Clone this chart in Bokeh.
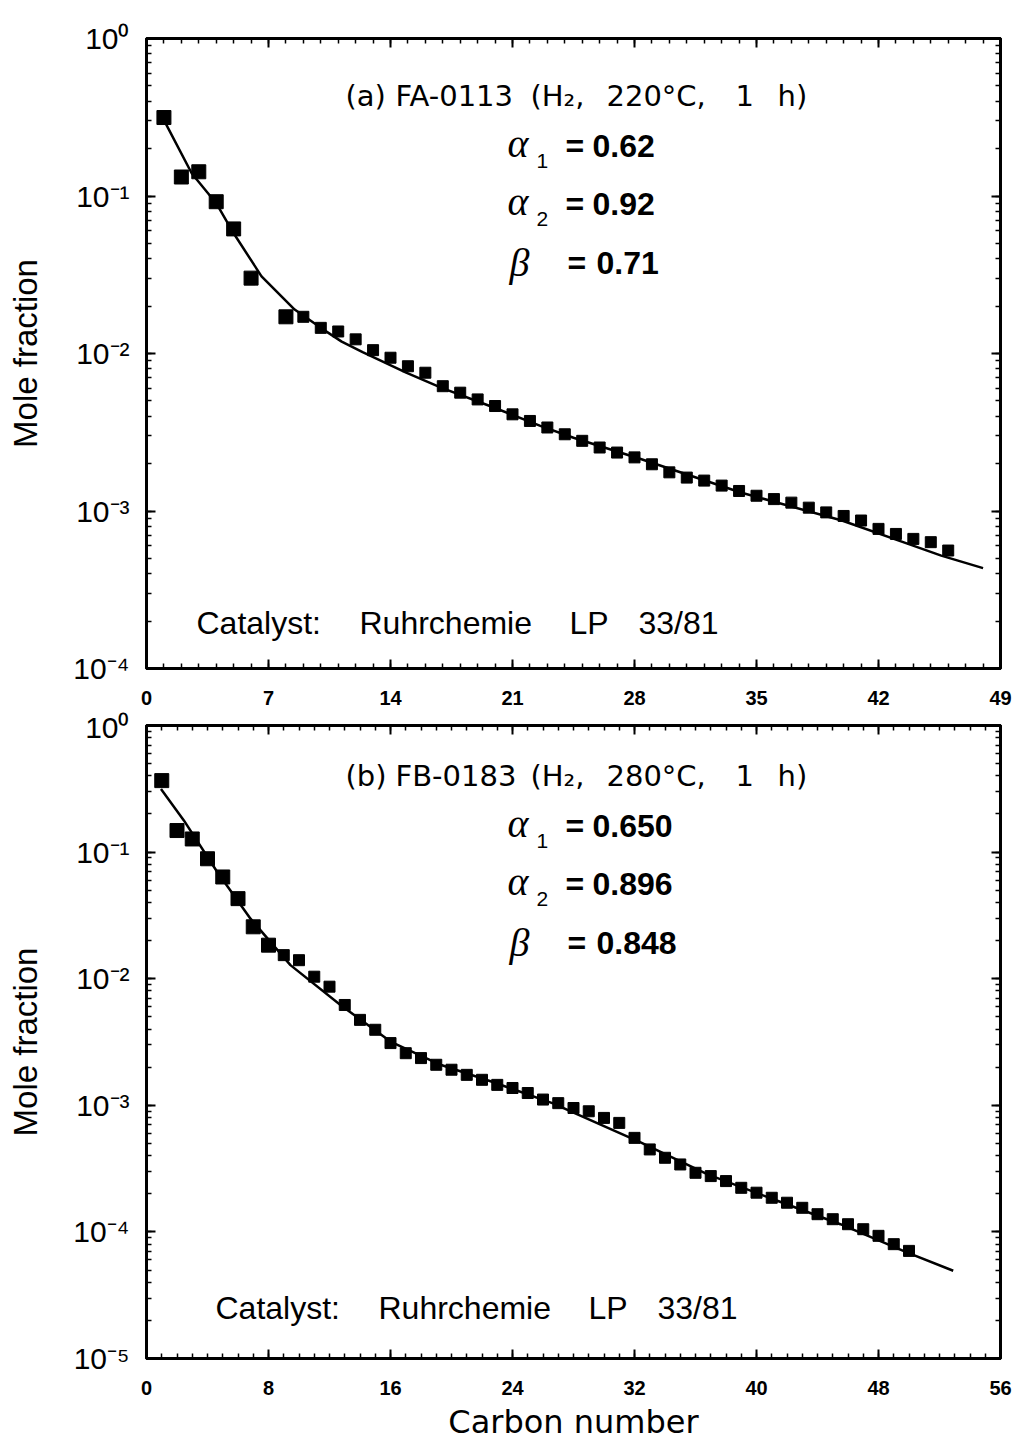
from bokeh.plotting import figure
from bokeh.models import (LogAxis, LinearAxis, LogTicker, SingleIntervalTicker,
                          Label, CustomJSTickFormatter, Range1d)
from bokeh.layouts import column
from bokeh.embed import file_html
from bokeh.resources import INLINE

# ---------------- data: panel (a) FA-0113 ----------------
a_carbon = [1, 2, 3, 4, 5, 6, 8, 9, 10, 11, 12, 13, 14, 15, 16, 17, 18, 19, 20,
            21, 22, 23, 24, 25, 26, 27, 28, 29, 30, 31, 32, 33, 34, 35, 36, 37,
            38, 39, 40, 41, 42, 43, 44, 45, 46]
a_mole = [0.315, 0.132, 0.1425, 0.092, 0.0618, 0.0301, 0.0171, 0.0171, 0.01455,
          0.0138, 0.0123, 0.0105, 0.0094, 0.0083, 0.00755, 0.0062, 0.00564,
          0.00511, 0.00464, 0.00411, 0.00373, 0.00339, 0.00307, 0.00279,
          0.00253, 0.00235, 0.00219, 0.00198, 0.00176, 0.00163, 0.00156,
          0.00145, 0.00134, 0.00125, 0.00119, 0.00113, 0.00105, 0.00098,
          0.00093, 0.00087, 0.00077, 0.000715, 0.000665, 0.000634, 0.000561]
a_fit_x = [1.0, 2.6, 4.0, 5.0, 6.6, 8.5, 10.0, 11.2, 12.4, 14.9, 16.9, 19.7,
           22.6, 24.5, 28.4, 34.1, 39.9, 43.7, 45.6, 48.0]
a_fit_y = [0.303, 0.139, 0.09, 0.058, 0.0309, 0.019, 0.01455, 0.0119, 0.0102,
           0.00755, 0.00607, 0.00464, 0.00347, 0.00292, 0.00213, 0.00131,
           0.00087, 0.000618, 0.000521, 0.000434]

# ---------------- data: panel (b) FB-0183 ----------------
b_carbon = list(range(1, 51))
b_mole = [0.367, 0.148, 0.127, 0.0886, 0.0636, 0.0429, 0.0257, 0.0184, 0.01535,
          0.0140, 0.01037, 0.00865, 0.0062, 0.00473, 0.00395, 0.0031, 0.00258,
          0.00236, 0.00209, 0.00191, 0.00174, 0.00159, 0.00145, 0.00137,
          0.00125, 0.00111, 0.00104, 0.000952, 0.000897, 0.000795, 0.000726,
          0.000553, 0.000448, 0.000385, 0.000341, 0.000293, 0.000276, 0.000252,
          0.000223, 0.000204, 0.000186, 0.00017, 0.000155, 0.000138, 0.000126,
          0.000115, 0.000105, 0.0000931, 0.00008, 0.0000708]
b_fit_x = [0.95, 2.45, 4.64, 6.82, 9.44, 12.72, 16.0, 19.28, 22.56, 26.7, 28.04,
           32.4, 36.8, 41.1, 45.5, 49.9, 52.9]
b_fit_y = [0.315, 0.178, 0.0696, 0.0298, 0.0128, 0.0062, 0.00319, 0.00209,
           0.00155, 0.00103, 0.00087, 0.00051, 0.000285, 0.000181, 0.000115,
           0.0000687, 0.0000493]

x_ticks_a = [0, 7, 14, 21, 28, 35, 42, 49]
x_ticks_b = [0, 8, 16, 24, 32, 40, 48, 56]

title_a = ["(a)", "FA-0113", "(H\u2082,", "220\u00b0C,", "1", "h)"]
title_b = ["(b)", "FB-0183", "(H\u2082,", "280\u00b0C,", "1", "h)"]
params_a = ["0.62", "0.92", "0.71"]
params_b = ["0.650", "0.896", "0.848"]
catalyst = ["Catalyst:", "Ruhrchemie", "LP", "33/81"]

SANS = "'Liberation Sans', Arial, sans-serif"
WIDE = "'DejaVu Sans', sans-serif"
SERIF = "'Liberation Serif', 'DejaVu Serif', serif"

sup_js = """
const s = {"-":"\u207b","0":"\u2070","1":"\u00b9","2":"\u00b2","3":"\u00b3","4":"\u2074",
           "5":"\u2075","6":"\u2076","7":"\u2077","8":"\u2078","9":"\u2079"};
const e = Math.round(Math.log10(tick));
return "10" + String(e).split("").map(c => s[c]).join("");
"""

FRAME_L, FRAME_W = 146, 854


def style_axis(ax, show_labels):
    ax.axis_line_width = 3
    ax.axis_line_color = "black"
    ax.major_tick_in = 9
    ax.major_tick_out = 0
    ax.minor_tick_in = 5
    ax.minor_tick_out = 0
    ax.major_tick_line_width = 2
    ax.minor_tick_line_width = 1.5
    ax.major_label_text_color = "black"
    ax.axis_label_text_color = "black"
    if not show_labels:
        ax.major_label_text_font_size = "1px"
        ax.major_label_text_color = None
        ax.major_label_standoff = 0


def make_panel(xmax, xticks, ymin, frame_h, top, bottom, xlabel):
    p = figure(frame_width=FRAME_W, frame_height=frame_h,
               y_axis_type="log", x_range=Range1d(0, xmax),
               y_range=Range1d(ymin, 1.0), output_backend="svg",
               toolbar_location=None, min_border_left=FRAME_L,
               min_border_right=1014 - FRAME_L - FRAME_W,
               min_border_top=top, min_border_bottom=bottom)
    p.xgrid.grid_line_color = None
    p.ygrid.grid_line_color = None
    p.outline_line_color = "black"
    p.outline_line_width = 3
    p.background_fill_color = "white"
    p.border_fill_color = "white"

    step = xticks[1] - xticks[0]
    p.xaxis.ticker = SingleIntervalTicker(interval=step, num_minor_ticks=step)
    style_axis(p.xaxis[0], True)
    p.xaxis.major_label_text_font = SANS
    p.xaxis.major_label_text_font_style = "bold"
    p.xaxis.major_label_text_font_size = "20px"
    p.xaxis.major_label_standoff = 22
    if xlabel:
        p.xaxis.axis_label = xlabel
        p.xaxis.axis_label_text_font = WIDE
        p.xaxis.axis_label_text_font_style = "normal"
        p.xaxis.axis_label_text_font_size = "32px"
        p.xaxis.axis_label_standoff = 5

    p.yaxis.ticker = LogTicker(num_minor_ticks=10)
    p.yaxis.formatter = CustomJSTickFormatter(code=sup_js)
    style_axis(p.yaxis[0], True)
    p.yaxis.major_label_text_font = SANS
    p.yaxis.major_label_text_font_size = "30px"
    p.yaxis.major_label_standoff = 17
    p.yaxis.axis_label = "Mole fraction"
    p.yaxis.axis_label_text_font = SANS
    p.yaxis.axis_label_text_font_style = "normal"
    p.yaxis.axis_label_text_font_size = "33px"
    p.yaxis.axis_label_standoff = 26

    ra = LogAxis(ticker=LogTicker(num_minor_ticks=10))
    style_axis(ra, False)
    p.add_layout(ra, "right")
    ta = LinearAxis(ticker=SingleIntervalTicker(interval=step, num_minor_ticks=step))
    style_axis(ta, False)
    p.add_layout(ta, "above")
    return p


def add_text(p, xconv, yconv, px, py, text, size, font=SANS, style="normal"):
    p.add_layout(Label(x=xconv(px), y=yconv(py), text=text, text_font=font,
                       text_font_size=size, text_font_style=style,
                       text_baseline="middle", text_align="left",
                       text_color="black"))


def annotate(p, xc, yc, y0, title, params, cat_x, cat_y):
    # title tokens
    for px, t in zip([345, 395, 530, 606, 735, 777], title):
        add_text(p, xc, yc, px, y0, t, "29px", WIDE)
    # parameter block
    rows = [y0 + 50, y0 + 108, y0 + 167]
    for k, (py, val) in enumerate(zip(rows, params)):
        if k < 2:
            add_text(p, xc, yc, 507, py - 2, "\u03b1", "40px", SERIF, "italic")
            add_text(p, xc, yc, 536, py + 15, str(k + 1), "21px")
            add_text(p, xc, yc, 565, py, "=", "32px", SANS, "bold")
            add_text(p, xc, yc, 592, py, val, "32px", SANS, "bold")
        else:
            add_text(p, xc, yc, 509, py, "\u03b2", "40px", SERIF, "italic")
            add_text(p, xc, yc, 567, py, "=", "32px", SANS, "bold")
            add_text(p, xc, yc, 596, py, val, "32px", SANS, "bold")
    # catalyst line
    for dx, t in zip([0, 163, 373, 442], catalyst):
        add_text(p, xc, yc, cat_x + dx, cat_y, t, "32px")


# ---------------- panel (a) ----------------
pa = make_panel(49, x_ticks_a, 1e-4, 630, 38, 42, None)
ax_a = lambda px: (px - FRAME_L) / FRAME_W * 49
ay_a = lambda py: 10 ** (-(py - 38) / 630 * 4)

pa.line(a_fit_x, a_fit_y, line_color="black", line_width=2.5)
big_a = [i for i, n in enumerate(a_carbon) if n <= 8]
small_a = [i for i, n in enumerate(a_carbon) if n > 8]
pa.scatter([a_carbon[i] for i in big_a], [a_mole[i] for i in big_a],
           marker="square", size=14, color="black")
pa.scatter([a_carbon[i] for i in small_a], [a_mole[i] for i in small_a],
           marker="square", size=11, color="black")
annotate(pa, ax_a, ay_a, 95, title_a, params_a, 196, 622)

# ---------------- panel (b) ----------------
pb = make_panel(56, x_ticks_b, 1e-5, 633, 15, 83, "Carbon number")
ax_b = lambda px: (px - FRAME_L) / FRAME_W * 56
ay_b = lambda py: 10 ** (-(py - 725) / 633 * 5)

pb.line(b_fit_x, b_fit_y, line_color="black", line_width=2.5)
big_b = [i for i, n in enumerate(b_carbon) if n <= 8]
small_b = [i for i, n in enumerate(b_carbon) if n > 8]
pb.scatter([b_carbon[i] for i in big_b], [b_mole[i] for i in big_b],
           marker="square", size=14, color="black")
pb.scatter([b_carbon[i] for i in small_b], [b_mole[i] for i in small_b],
           marker="square", size=11, color="black")
annotate(pb, ax_b, ay_b, 775, title_b, params_b, 215, 1307)

layout = column(pa, pb, spacing=0)
open("out.html", "w").write(file_html(layout, INLINE))
